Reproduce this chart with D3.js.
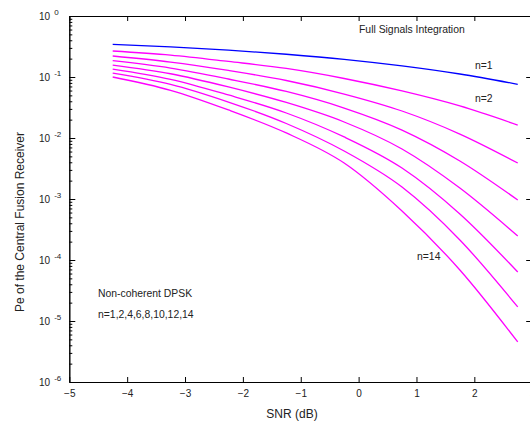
<!DOCTYPE html>
<html><head><meta charset="utf-8">
<script src="https://cdn.jsdelivr.net/npm/d3@7"></script>
<style>
body{margin:0;background:#fff}
svg{display:block}
text{font-family:"Liberation Sans",Arial,Helvetica,sans-serif;fill:#222}
</style>
</head><body>
<svg id="c" width="530" height="423"></svg>
<script>
// ---- data ----
const snr = [-4.25, -3.25, -2.25, -1.25, -0.25, 0.75, 1.75, 2.75];
const seriesNames = ["n=1", "n=2", "n=4", "n=6", "n=8", "n=10", "n=12", "n=14"];
const pe_n1  = [0.343, 0.312, 0.276, 0.236, 0.195, 0.152, 0.112, 0.076];
const pe_n2  = [0.267, 0.229, 0.180, 0.138, 0.0945, 0.059, 0.0335, 0.0163];
const pe_n4  = [0.221, 0.176, 0.128, 0.0876, 0.0526, 0.0277, 0.0116, 0.00389];
const pe_n6  = [0.185, 0.140, 0.0927, 0.0579, 0.031, 0.0135, 0.0042, 0.000963];
const pe_n8  = [0.157, 0.113, 0.0686, 0.0382, 0.0183, 0.0066, 0.00151, 0.000247];
const pe_n10 = [0.135, 0.0917, 0.0507, 0.0257, 0.0104, 0.00322, 0.000568, 0.0000636];
const pe_n12 = [0.116, 0.0759, 0.0389, 0.0173, 0.00612, 0.00157, 0.000213, 0.000017];
const pe_n14 = [0.100, 0.0605, 0.0288, 0.0121, 0.00389, 0.000636, 0.0000686, 0.00000453];
const xTicks = [-5, -4, -3, -2, -1, 0, 1, 2, 3];
const yExponents = [-6, -5, -4, -3, -2, -1, 0];

const series = [pe_n1, pe_n2, pe_n4, pe_n6, pe_n8, pe_n10, pe_n12, pe_n14];

// ---- layout ----
const svg = d3.select("#c");
const L = 69.3, R = 532.2, T = 16, B = 382;
const x = d3.scaleLinear().domain([-5, 3]).range([L, R]);
const y = d3.scaleLog().domain([1e-6, 1]).range([B, T]);

const majors = yExponents.map(e => Math.pow(10, e));
const minors = [];
yExponents.slice(0, -1).forEach(e => { for (let k = 2; k <= 9; k++) minors.push(k * Math.pow(10, e)); });

function styleAxis(g) {
  g.select(".domain").attr("stroke", "#000").attr("stroke-width", 1);
  g.selectAll(".tick line").attr("stroke", "#000");
}

// bottom
svg.append("g").attr("transform", `translate(0,${B})`)
  .call(d3.axisBottom(x).tickValues(xTicks).tickSize(-5).tickSizeOuter(0).tickPadding(8).tickFormat(d3.format("d")))
  .call(styleAxis)
  .call(g => g.selectAll("text").attr("font-size", 10).attr("fill", "#222")
    .style("font-family", '"Liberation Sans",Arial,sans-serif'));
// top
svg.append("g").attr("transform", `translate(0,${T})`)
  .call(d3.axisTop(x).tickValues(xTicks).tickSize(-5).tickSizeOuter(0).tickFormat(""))
  .call(styleAxis);
// left majors / minors
svg.append("g").attr("transform", `translate(${L},0)`)
  .call(d3.axisLeft(y).tickValues(majors).tickSize(-6).tickSizeOuter(0).tickFormat(""))
  .call(styleAxis);
svg.append("g").attr("transform", `translate(${L},0)`)
  .call(d3.axisLeft(y).tickValues(minors).tickSize(-3).tickSizeOuter(0).tickFormat(""))
  .call(styleAxis);
// right
svg.append("g").attr("transform", `translate(${R},0)`)
  .call(d3.axisRight(y).tickValues(majors).tickSize(-6).tickSizeOuter(0).tickFormat(""))
  .call(styleAxis);

// y tick labels 10^e
const yl = svg.append("g");
yExponents.forEach(e => {
  const t = yl.append("text").attr("x", 39).attr("y", y(Math.pow(10, e)) + 3.5).attr("font-size", 10);
  t.append("tspan").text("10");
  t.append("tspan").attr("dx", 4).attr("dy", -5).attr("font-size", 8).text(String(e));
});

// lines
const line = d3.line().x((d, i) => x(snr[i])).y(d => y(d)).curve(d3.curveMonotoneX);
svg.append("g").selectAll("path").data(series).join("path")
  .attr("d", d => line(d))
  .attr("fill", "none")
  .attr("stroke", (d, i) => i === 0 ? "#0000ff" : "#ff00ff")
  .attr("stroke-width", 1.3);

// annotations
const ann = [
  ["Full Signals Integration", 359, 33],
  ["n=1", 475, 69],
  ["n=2", 475, 102],
  ["n=14", 417, 260],
  ["Non-coherent DPSK", 98, 297],
  ["n=1,2,4,6,8,10,12,14", 98, 318]
];
svg.append("g").selectAll("text").data(ann).join("text")
  .attr("x", d => d[1]).attr("y", d => d[2]).attr("font-size", 10.4).text(d => d[0]);

// axis titles
svg.append("text").attr("x", 292).attr("y", 418).attr("text-anchor", "middle")
  .attr("font-size", 12).text("SNR (dB)");
svg.append("text").attr("transform", "translate(24,222) rotate(-90)").attr("text-anchor", "middle")
  .attr("font-size", 12).text("Pe  of the Central Fusion Receiver");
</script>
</body></html>
